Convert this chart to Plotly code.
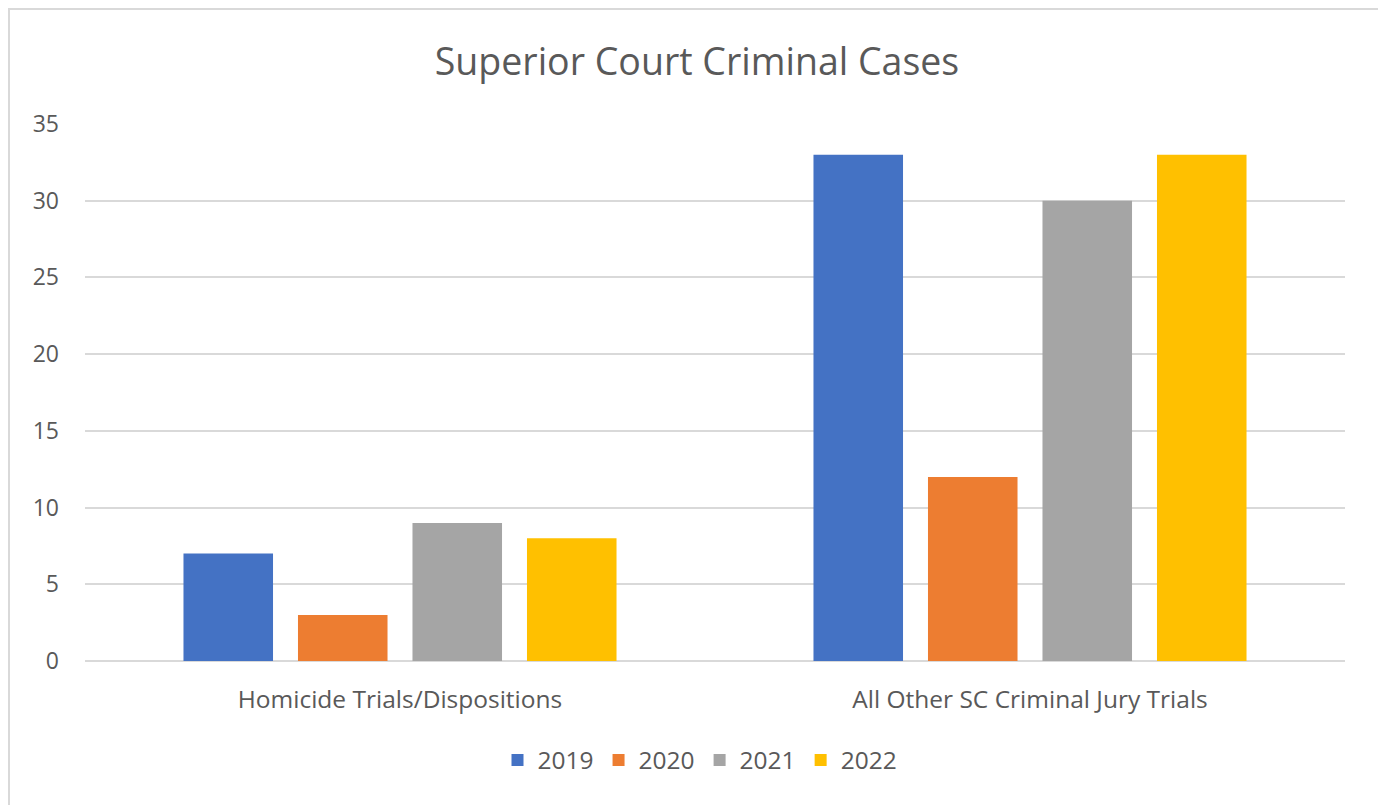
import plotly.graph_objects as go

categories = ["Homicide Trials/Dispositions", "All Other SC Criminal Jury Trials"]
years = ["2019", "2020", "2021", "2022"]
values_2019 = [7, 33]
values_2020 = [3, 12]
values_2021 = [9, 30]
values_2022 = [8, 33]
y_ticks = [0, 5, 10, 15, 20, 25, 30, 35]

colors = ["#4472C4", "#ED7D31", "#A5A5A5", "#FFC000"]
series = [values_2019, values_2020, values_2021, values_2022]

# page body has an 8px margin, so the figure is a bit smaller than the window
W, H = 1378, 797
L, R, T, B = 77, 41, 116, 144
font_name = "Open Sans, Lato, sans-serif"
grey_text = "#595959"

fig = go.Figure()
for year, vals, col in zip(years, series, colors):
    fig.add_trace(go.Bar(x=categories, y=vals, name=year, marker=dict(color=col, line=dict(width=0))))

# outer chart frame (figure pixels -> paper)
pw, ph = W - L - R, H - T - B
def px_x(p): return (p - L) / pw
def px_y(p): return (H - B - p) / ph

fig.add_shape(type="rect", xref="paper", yref="paper",
              x0=px_x(1), x1=px_x(1371), y0=px_y(830), y1=px_y(1),
              line=dict(color="#D9D9D9", width=2), fillcolor="rgba(0,0,0,0)", layer="below")

fig.update_layout(
    width=W, height=H,
    margin=dict(l=L, r=R, t=T, b=B),
    paper_bgcolor="white", plot_bgcolor="white",
    title=dict(text="Superior Court Criminal Cases", x=0.5, xanchor="center",
               y=1 - 54 / H, yanchor="middle",
               font=dict(family=font_name, size=37.5, color=grey_text)),
    barmode="group", bargap=0.273, bargroupgap=0.218,
    font=dict(family=font_name, color=grey_text),
    xaxis=dict(showgrid=False, showline=False, ticks="", ticklabelstandoff=21,
               tickfont=dict(size=24.5, color=grey_text)),
    yaxis=dict(range=[0, 35], tickvals=y_ticks, showgrid=True, gridcolor="#D9D9D9", gridwidth=2,
               zeroline=True, zerolinecolor="#D9D9D9", zerolinewidth=2, showline=False,
               tickfont=dict(size=23, color=grey_text), ticklabelstandoff=25),
    legend=dict(orientation="h", x=px_x(692), xanchor="center", y=-(752 - (H - B)) / ph, yanchor="middle",
                font=dict(size=24.5, color=grey_text), itemwidth=30, traceorder="normal"),
    showlegend=True,
)

fig.write_html("out.html")
